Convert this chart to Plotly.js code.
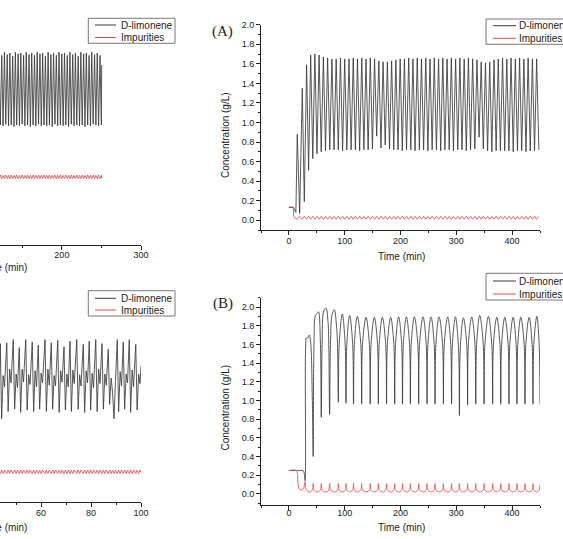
<!DOCTYPE html>
<html>
<head>
<meta charset="utf-8">
<script src="https://cdn.plot.ly/plotly-3.0.1.min.js"></script>
<style>
  html, body { margin: 0; padding: 0; background: #fff; overflow: hidden; }
  #chart { width: 563px; height: 539px; }
</style>
</head>
<body>
<div id="chart"></div>
<script>
// ---------- Panel (A): concentration profiles, time in min ----------
const timeA = [0, 8, 8.5, 12.5, 15, 19.3, 24, 27.6, 31.7, 35.3, 39, 42.8,
  46.5, 50.3, 54.1, 57.9, 61.8, 65.6, 69.4, 73.2, 77.1, 80.9,
  84.7, 88.5, 92.4, 96.2, 100.0, 103.8, 107.7, 111.5, 115.3, 119.1,
  122.9, 126.8, 130.6, 134.4, 138.2, 142.0, 145.9, 149.7, 153.5, 157.3,
  161.2, 165.0, 168.8, 172.6, 176.5, 180.3, 184.1, 187.9, 191.7, 195.6,
  199.4, 203.2, 207.0, 210.8, 214.7, 218.5, 222.3, 226.1, 230.0, 233.8,
  237.6, 241.4, 245.3, 249.1, 252.9, 256.7, 260.5, 264.4, 268.2, 272.0,
  275.8, 279.6, 283.5, 287.3, 291.1, 294.9, 298.8, 302.6, 306.4, 310.2,
  314.1, 317.9, 321.7, 325.5, 329.3, 333.2, 337.0, 340.8, 344.6, 348.4,
  352.3, 356.1, 359.9, 363.7, 367.6, 371.4, 375.2, 379.0, 382.9, 386.7,
  390.5, 394.3, 398.1, 402.0, 405.8, 409.6, 413.4, 417.2, 421.1, 424.9,
  428.7, 432.5, 436.4, 440.2, 444.0, 448.0];
const limoneneA = [0.13, 0.13, 0.13, 0.08, 0.88, 0.07, 1.35, 0.19, 1.59, 0.51, 1.69, 0.63,
  1.70, 0.68, 1.69, 0.70, 1.67, 0.71, 1.66, 0.72, 1.65, 0.72,
  1.65, 0.72, 1.66, 0.71, 1.65, 0.72, 1.65, 0.72, 1.66, 0.72,
  1.65, 0.71, 1.66, 0.72, 1.65, 0.72, 1.66, 0.73, 1.65, 0.86,
  1.63, 0.74, 1.62, 0.77, 1.62, 0.73, 1.63, 0.72, 1.64, 0.72,
  1.65, 0.71, 1.65, 0.72, 1.66, 0.72, 1.65, 0.71, 1.66, 0.72,
  1.65, 0.72, 1.66, 0.71, 1.65, 0.72, 1.66, 0.72, 1.65, 0.71,
  1.66, 0.72, 1.65, 0.72, 1.66, 0.71, 1.65, 0.72, 1.66, 0.72,
  1.65, 0.71, 1.66, 0.72, 1.65, 0.73, 1.64, 0.85, 1.62, 0.73,
  1.61, 0.71, 1.62, 0.70, 1.64, 0.71, 1.65, 0.71, 1.66, 0.71,
  1.65, 0.71, 1.66, 0.70, 1.65, 0.71, 1.66, 0.71, 1.65, 0.70,
  1.66, 0.71, 1.65, 0.71, 1.65, 0.72];
const impuritiesA = [0.135, 0.135, 0.035, 0.02, 0.01, 0.04, 0.01, 0.04, 0.01, 0.04, 0.01, 0.04,
  0.01, 0.04, 0.01, 0.04, 0.01, 0.04, 0.01, 0.04, 0.01, 0.04,
  0.01, 0.04, 0.01, 0.04, 0.01, 0.04, 0.01, 0.04, 0.01, 0.04,
  0.01, 0.04, 0.01, 0.04, 0.01, 0.04, 0.01, 0.04, 0.01, 0.04,
  0.01, 0.04, 0.01, 0.04, 0.01, 0.04, 0.01, 0.04, 0.01, 0.04,
  0.01, 0.04, 0.01, 0.04, 0.01, 0.04, 0.01, 0.04, 0.01, 0.04,
  0.01, 0.04, 0.01, 0.04, 0.01, 0.04, 0.01, 0.04, 0.01, 0.04,
  0.01, 0.04, 0.01, 0.04, 0.01, 0.04, 0.01, 0.04, 0.01, 0.04,
  0.01, 0.04, 0.01, 0.04, 0.01, 0.04, 0.01, 0.04, 0.01, 0.04,
  0.01, 0.04, 0.01, 0.04, 0.01, 0.04, 0.01, 0.04, 0.01, 0.04,
  0.01, 0.04, 0.01, 0.04, 0.01, 0.04, 0.01, 0.04, 0.01, 0.04,
  0.01, 0.04, 0.01, 0.04, 0.01, 0.04];

// ---------- Panel (B) ----------
const timeB = [0, 13.5, 15, 16.5, 18.5, 22, 25, 27, 29, 30,
  31.5, 34, 36.5, 39, 42, 43.5, 45, 47.5, 50.5, 53,
  56.5, 58, 59.5, 62.5, 66.5, 70, 71.5, 73, 74.5, 77.5,
  81.5, 85, 87.1, 88.6,
  90.1, 95.7, 100.8, 102.3,
  103.8, 108.9, 114.3, 115.8,
  117.3, 122.6, 128.9, 130.4,
  131.9, 138.2, 144.2, 145.7,
  147.2, 153.1, 158.8, 160.3,
  161.8, 167.5, 173.5, 175.0,
  176.5, 182.4, 188.1, 189.6,
  191.1, 196.7, 202.1, 203.6,
  205.1, 210.5, 216.2, 217.7,
  219.2, 224.8, 231.1, 232.6,
  234.1, 240.4, 246.1, 247.6,
  249.1, 254.7, 260.4, 261.9,
  263.4, 269.1, 275.4, 276.9,
  278.4, 284.6, 290.0, 291.5,
  293.0, 298.4, 304.1, 305.6,
  307.1, 312.7, 318.7, 320.2,
  321.7, 327.7, 333.4, 334.9,
  336.4, 342.0, 348.3, 349.8,
  351.3, 357.6, 363.6, 365.1,
  366.6, 372.5, 378.2, 379.7,
  381.2, 386.9, 392.9, 394.4,
  395.9, 401.8, 407.2, 408.7,
  410.2, 415.6, 421.6, 423.1,
  424.6, 430.5, 435.9, 437.4,
  438.9, 444.3, 448.5, 450];
const limoneneB = [0.25, 0.25, 0.25, 0.25, 0.25, 0.25, 0.25, 0.23, 0.14, 1.58,
  1.67, 1.67, 1.70, 1.62, 1.0, 0.40, 1.6, 1.91, 1.93, 1.95,
  1.6, 0.82, 1.6, 1.96, 1.99, 1.85, 1.6, 0.85, 1.6, 1.92,
  1.97, 1.82, 1.6, 0.98,
  1.6, 1.925, 1.6, 0.97,
  1.6, 1.91, 1.6, 0.96,
  1.6, 1.90, 1.6, 0.96,
  1.6, 1.89, 1.6, 0.96,
  1.6, 1.89, 1.6, 0.96,
  1.6, 1.89, 1.6, 0.96,
  1.6, 1.89, 1.6, 0.96,
  1.6, 1.895, 1.6, 0.96,
  1.6, 1.895, 1.6, 0.96,
  1.6, 1.895, 1.6, 0.96,
  1.6, 1.895, 1.6, 0.96,
  1.6, 1.895, 1.6, 0.96,
  1.6, 1.895, 1.6, 0.96,
  1.6, 1.895, 1.6, 0.96,
  1.6, 1.895, 1.55, 0.84,
  1.55, 1.885, 1.6, 0.95,
  1.6, 1.895, 1.6, 0.96,
  1.6, 1.91, 1.6, 0.96,
  1.6, 1.90, 1.6, 0.96,
  1.6, 1.89, 1.6, 0.96,
  1.6, 1.89, 1.6, 0.96,
  1.6, 1.89, 1.6, 0.96,
  1.6, 1.89, 1.6, 0.96,
  1.6, 1.89, 1.6, 0.96,
  1.6, 1.90, 1.6, 0.96];
const impuritiesB = [0.25, 0.25, 0.23, 0.10, 0.05, 0.04, 0.045, 0.07, 0.13, 0.06,
  0.04, 0.025, 0.02, 0.025, 0.04, 0.11, 0.04, 0.025, 0.02, 0.025,
  0.04, 0.11, 0.04, 0.025, 0.02, 0.025, 0.04, 0.11, 0.04, 0.025,
  0.02, 0.025, 0.04, 0.11,
  0.04, 0.02, 0.04, 0.11,
  0.04, 0.02, 0.04, 0.11,
  0.04, 0.02, 0.04, 0.11,
  0.04, 0.02, 0.04, 0.11,
  0.04, 0.02, 0.04, 0.11,
  0.04, 0.02, 0.04, 0.11,
  0.04, 0.02, 0.04, 0.11,
  0.04, 0.02, 0.04, 0.11,
  0.04, 0.02, 0.04, 0.11,
  0.04, 0.02, 0.04, 0.11,
  0.04, 0.02, 0.04, 0.11,
  0.04, 0.02, 0.04, 0.11,
  0.04, 0.02, 0.04, 0.11,
  0.04, 0.02, 0.04, 0.11,
  0.04, 0.02, 0.04, 0.11,
  0.04, 0.02, 0.04, 0.11,
  0.04, 0.02, 0.04, 0.11,
  0.04, 0.02, 0.04, 0.11,
  0.04, 0.02, 0.04, 0.11,
  0.04, 0.02, 0.04, 0.11,
  0.04, 0.02, 0.04, 0.11,
  0.04, 0.02, 0.04, 0.11,
  0.04, 0.02, 0.04, 0.11,
  0.04, 0.02, 0.04, 0.11,
  0.04, 0.02, 0.04, 0.10];

// ---------- Left upper panel ----------
const timeC = [119.0, 120.5, 122.2, 124.0, 125.7, 127.4, 129.1, 130.9, 132.6, 134.3,
  136.0, 137.8, 139.5, 141.2, 142.9, 144.7, 146.4, 148.1, 149.8, 151.6,
  153.3, 155.0, 156.7, 158.5, 160.2, 161.9, 163.6, 165.4, 167.1, 168.8,
  170.5, 172.3, 174.0, 175.7, 177.4, 179.2, 180.9, 182.6, 184.3, 186.1,
  187.8, 189.5, 191.2, 193.0, 194.7, 196.4, 198.1, 199.9, 201.6, 203.3,
  205.0, 206.8, 208.5, 210.2, 211.9, 213.7, 215.4, 217.1, 218.8, 220.6,
  222.3, 224.0, 225.7, 227.5, 229.2, 230.9, 232.6, 234.4, 236.1, 237.8,
  239.5, 241.3, 243.0, 244.7, 246.4, 248.2, 249.9, 250.3];
const limoneneC = [1.95,
  2.40, 1.50, 2.37, 1.49, 2.41, 1.51, 2.38, 1.49, 2.40, 1.50,
  2.36, 1.48, 2.41, 1.50, 2.39, 1.49, 2.40, 1.51, 2.37, 1.49,
  2.41, 1.50, 2.38, 1.48, 2.40, 1.50, 2.37, 1.49, 2.41, 1.51,
  2.39, 1.49, 2.40, 1.50, 2.36, 1.49, 2.41, 1.50, 2.38, 1.48,
  2.40, 1.51, 2.37, 1.49, 2.41, 1.50, 2.39, 1.49, 2.40, 1.50,
  2.37, 1.48, 2.41, 1.51, 2.38, 1.49, 2.40, 1.50, 2.36, 1.49,
  2.41, 1.50, 2.39, 1.48, 2.40, 1.50, 2.37, 1.49, 2.41, 1.51,
  2.38, 1.50, 2.40, 1.49, 2.37, 1.50,
  2.25];
const impuritiesC = [0.835,
  0.83, 0.875, 0.83, 0.87, 0.83, 0.875, 0.83, 0.87, 0.83, 0.875,
  0.83, 0.87, 0.83, 0.875, 0.83, 0.87, 0.83, 0.875, 0.83, 0.87,
  0.83, 0.875, 0.83, 0.87, 0.83, 0.875, 0.83, 0.87, 0.83, 0.875,
  0.83, 0.87, 0.83, 0.875, 0.83, 0.87, 0.83, 0.875, 0.83, 0.87,
  0.83, 0.875, 0.83, 0.87, 0.83, 0.875, 0.83, 0.87, 0.83, 0.875,
  0.83, 0.87, 0.83, 0.875, 0.83, 0.87, 0.83, 0.875, 0.83, 0.87,
  0.83, 0.875, 0.83, 0.87, 0.83, 0.875, 0.83, 0.87, 0.83, 0.875,
  0.83, 0.87, 0.83, 0.875, 0.83, 0.87,
  0.83];

// ---------- Left lower panel ----------
const timeD = [43.4,
  43.7, 44.25, 44.85, 45.4,
  46.3, 46.85, 47.45, 48.0,
  48.9, 49.45, 50.05, 50.6,
  51.3, 51.85, 52.45, 53.0,
  53.9, 54.45, 55.05, 55.6,
  56.5, 57.05, 57.65, 58.2,
  58.9, 59.45, 60.05, 60.6,
  61.6, 62.15, 62.75, 63.3,
  64.1, 64.65, 65.25, 65.8,
  66.7, 67.25, 67.85, 68.4,
  69.2, 69.75, 70.35, 70.9,
  71.6, 72.15, 72.75, 73.3,
  74.3, 74.85, 75.45, 76.0,
  76.9, 77.45, 78.05, 78.6,
  79.3, 79.85, 80.45, 81.0,
  81.9, 82.45, 83.05, 83.6,
  84.4, 84.95, 85.55, 86.1,
  86.9, 87.45, 88.05, 88.6, 89.2, 89.8,
  90.5, 91.05, 91.65, 92.2,
  92.9, 93.45, 94.05, 94.6,
  95.3, 95.85, 96.45, 97.0,
  97.9, 98.45, 99.05, 99.6,
  100.0];
const limoneneD = [1.55,
  1.98, 1.04, 1.58, 1.44,
  1.99, 1.13, 1.66, 1.49,
  2.03, 1.16, 1.60, 1.43,
  1.93, 1.12, 1.66, 1.50,
  2.03, 1.15, 1.59, 1.47,
  2.00, 1.13, 1.64, 1.44,
  1.96, 1.16, 1.61, 1.49,
  2.03, 1.13, 1.66, 1.46,
  1.99, 1.16, 1.58, 1.45,
  2.02, 1.12, 1.64, 1.50,
  1.94, 1.15, 1.60, 1.44,
  2.01, 1.13, 1.65, 1.48,
  2.03, 1.16, 1.59, 1.45,
  1.97, 1.12, 1.64, 1.49,
  2.01, 1.15, 1.61, 1.43,
  2.03, 1.13, 1.66, 1.48,
  1.98, 1.16, 1.60, 1.46,
  1.91, 1.22, 1.55, 1.38, 1.04, 1.52,
  2.03, 1.13, 1.63, 1.45,
  2.00, 1.16, 1.60, 1.49,
  2.03, 1.12, 1.65, 1.44,
  1.97, 1.15, 1.60, 1.48,
  1.70];
const impuritiesD = [0.37,
  0.355, 0.40, 0.355, 0.40,
  0.355, 0.40, 0.355, 0.40,
  0.355, 0.40, 0.355, 0.40,
  0.355, 0.40, 0.355, 0.40,
  0.355, 0.40, 0.355, 0.40,
  0.355, 0.40, 0.355, 0.40,
  0.355, 0.40, 0.355, 0.40,
  0.355, 0.40, 0.355, 0.40,
  0.355, 0.40, 0.355, 0.40,
  0.355, 0.40, 0.355, 0.40,
  0.355, 0.40, 0.355, 0.40,
  0.355, 0.40, 0.355, 0.40,
  0.355, 0.40, 0.355, 0.40,
  0.355, 0.40, 0.355, 0.40,
  0.355, 0.40, 0.355, 0.40,
  0.355, 0.40, 0.355, 0.40,
  0.355, 0.40, 0.355, 0.40,
  0.355, 0.40, 0.355, 0.40, 0.355, 0.40,
  0.355, 0.40, 0.355, 0.40,
  0.355, 0.40, 0.355, 0.40,
  0.355, 0.40, 0.355, 0.40,
  0.355, 0.40, 0.355, 0.40,
  0.37];

const seriesNames = ['D-limonene', 'Impurities'];
const panelLabels = ['(A)', '(B)'];
const xTitle = 'Time (min)';
const yTitle = 'Concentration (g/L)';

// ---------- styling ----------
const W = 563, H = 539;
const px = x => x / W;          // page pixel -> paper fraction (x)
const py = y => 1 - y / H;      // page pixel -> paper fraction (y)
const FONT = 'Arial, "Liberation Sans", sans-serif';
const SERIF = '"Liberation Serif", "Times New Roman", serif';
const INK = '#222';
const BLACK_LINE = '#3a3a3a';
const RED_LINE = '#e84a4a';

function xAxis(domain, range, anchor, dtick, minorDtick, standoff) {
  return {
    domain, range, anchor, tick0: 0, dtick,
    ticks: 'outside', ticklen: 4, tickwidth: 1, tickcolor: INK,
    ticklabelstandoff: standoff,
    showline: true, linecolor: INK, linewidth: 1,
    showgrid: false, zeroline: false, fixedrange: true,
    tickfont: {family: FONT, size: 9, color: INK},
    minor: {tick0: 0, dtick: minorDtick, ticks: 'outside', ticklen: 2,
            tickwidth: 1, tickcolor: INK, showgrid: false}
  };
}
function yAxis(domain, range, anchor) {
  return {
    domain, range, anchor, tick0: 0, dtick: 0.2, tickformat: '.1f',
    ticks: 'outside', ticklen: 4, tickwidth: 1, tickcolor: INK,
    showline: true, linecolor: INK, linewidth: 1,
    showgrid: false, zeroline: false, fixedrange: true,
    tickfont: {family: FONT, size: 9, color: INK},
    minor: {tick0: 0, dtick: 0.1, ticks: 'outside', ticklen: 2,
            tickwidth: 1, tickcolor: INK, showgrid: false}
  };
}
function hiddenY(domain, range, anchor) {
  return {domain, range, anchor, visible: false, fixedrange: true};
}

function pair(t, lim, imp, xa, ya, spline) {
  const shape = spline ? {shape: 'spline', smoothing: 1} : {shape: 'linear'};
  return [
    {x: t, y: lim, xaxis: xa, yaxis: ya, mode: 'lines', name: seriesNames[0],
     line: Object.assign({color: BLACK_LINE, width: 0.85}, shape), showlegend: false},
    {x: t, y: imp, xaxis: xa, yaxis: ya, mode: 'lines', name: seriesNames[1],
     line: Object.assign({color: RED_LINE, width: 0.85}, shape), showlegend: false}
  ];
}

const data = [].concat(
  pair(timeA, limoneneA, impuritiesA, 'x', 'y', false),
  pair(timeB, limoneneB, impuritiesB, 'x2', 'y2', true),
  pair(timeC, limoneneC, impuritiesC, 'x3', 'y3', false),
  pair(timeD, limoneneD, impuritiesD, 'x4', 'y4', false)
);

// ---------- legends, titles and labels ----------
const shapes = [];
const annotations = [];

function legendBox(x0, x1, y0, y1, rowY, keyX0, keyX1, textX) {
  shapes.push({type: 'rect', xref: 'paper', yref: 'paper',
    x0: px(x0), x1: px(x1), y0: py(y1), y1: py(y0),
    line: {color: '#555', width: 0.8}, fillcolor: 'rgba(255,255,255,0)'});
  [BLACK_LINE, RED_LINE].forEach((c, i) => {
    shapes.push({type: 'line', xref: 'paper', yref: 'paper',
      x0: px(keyX0), x1: px(keyX1), y0: py(rowY[i]), y1: py(rowY[i]),
      line: {color: c, width: 1}});
    annotations.push({xref: 'paper', yref: 'paper', x: px(textX), y: py(rowY[i]),
      xanchor: 'left', yanchor: 'middle', showarrow: false, text: seriesNames[i],
      font: {family: FONT, size: 10, color: INK}});
  });
}
legendBox(486, 620, 19, 44.3, [25.7, 38.3], 493, 516, 517);
legendBox(486, 620, 273.3, 300, [281, 294], 493, 516, 517);
legendBox(88.3, 175, 18.3, 43.3, [25, 37.5], 95, 116, 119);
legendBox(88.3, 175, 290.7, 316, [298.3, 310], 95, 116, 119);

function text(x, y, str, opts) {
  annotations.push(Object.assign({xref: 'paper', yref: 'paper', x: px(x), y: py(y),
    xanchor: 'center', yanchor: 'middle', showarrow: false, text: str,
    font: {family: FONT, size: 10, color: INK}}, opts || {}));
}
text(401, 256.7, xTitle);
text(401, 527.3, xTitle);
text(3.3, 267, xTitle);
text(3.3, 527.3, xTitle);
text(225, 135, yTitle, {textangle: -90});
text(225, 407.5, yTitle, {textangle: -90});
text(222.8, 31, panelLabels[0], {font: {family: SERIF, size: 15, color: INK}});
text(222.8, 303.5, panelLabels[1], {font: {family: SERIF, size: 15, color: INK}});

const layout = {
  width: W, height: H,
  margin: {l: 0, r: 0, t: 0, b: 0, pad: 0, autoexpand: false},
  paper_bgcolor: '#fff', plot_bgcolor: 'rgba(0,0,0,0)',
  showlegend: false,
  xaxis:  xAxis([px(261), px(540)], [-50, 450], 'y', 100, 50, -2),
  yaxis:  yAxis([py(230), py(24.7)], [-0.1, 2.0], 'x'),
  xaxis2: xAxis([px(261), px(540)], [-50, 450], 'y2', 100, 50, -5),
  yaxis2: yAxis([py(505), py(297.7)], [-0.12, 2.1], 'x2'),
  xaxis3: xAxis([0, px(141)], [121.8, 300], 'y3', 100, 50, -3),
  yaxis3: hiddenY([py(245), py(5)], [0, 3.0], 'x3'),
  xaxis4: xAxis([0, px(141)], [43.6, 100], 'y4', 20, 10, -2),
  yaxis4: hiddenY([py(502), py(278)], [0, 2.8], 'x4'),
  shapes, annotations
};

Plotly.newPlot('chart', data, layout, {displayModeBar: false, staticPlot: true});
</script>
</body>
</html>
